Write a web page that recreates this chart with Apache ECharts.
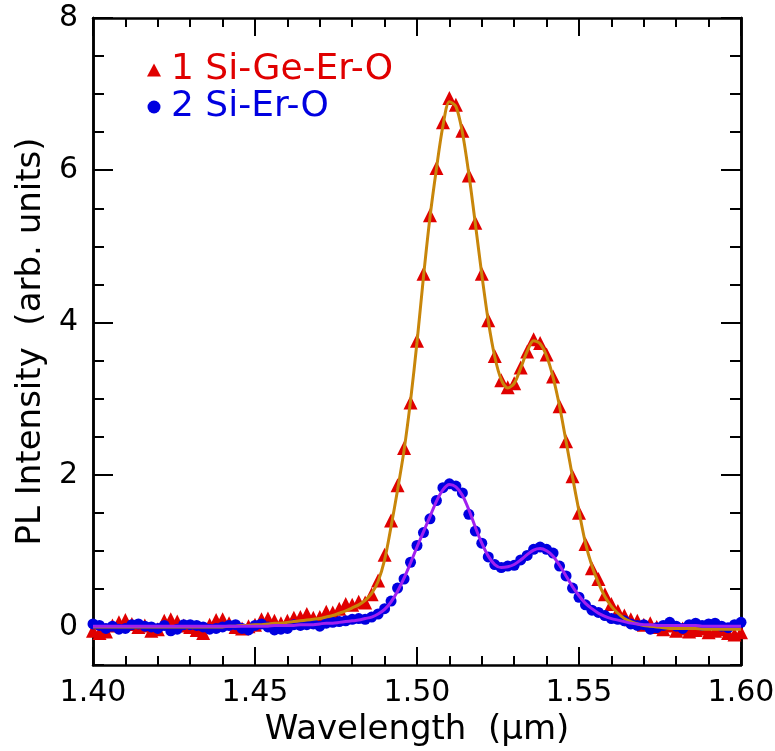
<!DOCTYPE html>
<html>
<head>
<meta charset="utf-8">
<script src="https://cdn.jsdelivr.net/npm/echarts@6/dist/echarts.min.js"></script>
<style>
  html, body { margin: 0; padding: 0; background: #fff; }
  #box { width: 775px; height: 751px; }
</style>
</head>
<body>
<div id="box"></div>
<script>
// wavelength grid (um)
var wavelength = [
  1.400, 1.402, 1.404, 1.406, 1.408, 1.410, 1.412, 1.414, 1.416, 1.418,
  1.420, 1.422, 1.424, 1.426, 1.428, 1.430, 1.432, 1.434, 1.436, 1.438,
  1.440, 1.442, 1.444, 1.446, 1.448, 1.450, 1.452, 1.454, 1.456, 1.458,
  1.460, 1.462, 1.464, 1.466, 1.468, 1.470, 1.472, 1.474, 1.476, 1.478,
  1.480, 1.482, 1.484, 1.486, 1.488, 1.490, 1.492, 1.494, 1.496, 1.498,
  1.500, 1.502, 1.504, 1.506, 1.508, 1.510, 1.512, 1.514, 1.516, 1.518,
  1.520, 1.522, 1.524, 1.526, 1.528, 1.530, 1.532, 1.534, 1.536, 1.538,
  1.540, 1.542, 1.544, 1.546, 1.548, 1.550, 1.552, 1.554, 1.556, 1.558,
  1.560, 1.562, 1.564, 1.566, 1.568, 1.570, 1.572, 1.574, 1.576, 1.578,
  1.580, 1.582, 1.584, 1.586, 1.588, 1.590, 1.592, 1.594, 1.596, 1.598,
  1.600
];

// 1 Si-Ge-Er-O measured
var siGeErO = [
  -0.05, -0.08, -0.06, 0.02, 0.06, 0.09, 0.04, 0.00, 0.02, -0.05,
  -0.03, 0.08, 0.10, 0.07, 0.02, 0.00, -0.04, -0.08, 0.03, 0.09,
  0.10, 0.05, 0.00, -0.02, 0.01, 0.03, 0.10, 0.11, 0.08, 0.05,
  0.08, 0.12, 0.13, 0.17, 0.12, 0.13, 0.20, 0.19, 0.24, 0.30,
  0.29, 0.33, 0.32, 0.43, 0.61, 0.95, 1.40, 1.86, 2.35, 2.95,
  3.76, 4.64, 5.41, 6.03, 6.63, 6.95, 6.86, 6.52, 5.93, 5.31,
  4.64, 4.03, 3.56, 3.24, 3.15, 3.20, 3.41, 3.62, 3.78, 3.73,
  3.58, 3.29, 2.90, 2.44, 1.98, 1.50, 1.09, 0.77, 0.63, 0.43,
  0.30, 0.21, 0.15, 0.10, 0.08, 0.03, 0.05, 0.00, -0.03, 0.02,
  -0.05, -0.02, -0.06, -0.04, -0.02, -0.07, -0.05, -0.03, -0.08, -0.10,
  -0.07
];

// 2 Si-Er-O measured
var siErO = [
  0.04, 0.02, -0.02, 0.01, -0.03, -0.02, 0.03, 0.04, 0.01, 0.00,
  -0.02, 0.02, -0.05, -0.03, 0.03, 0.03, 0.02, 0.00, -0.03, -0.02,
  0.00, 0.02, 0.03, -0.02, -0.04, 0.02, 0.04, 0.00, -0.04, -0.03,
  -0.02, 0.03, 0.02, 0.03, 0.04, 0.01, 0.05, 0.06, 0.07, 0.08,
  0.10, 0.11, 0.10, 0.13, 0.17, 0.24, 0.34, 0.51, 0.63, 0.85,
  1.07, 1.24, 1.42, 1.66, 1.83, 1.88, 1.85, 1.76, 1.48, 1.26,
  1.10, 0.92, 0.82, 0.78, 0.80, 0.81, 0.88, 0.94, 1.02, 1.05,
  1.02, 0.97, 0.80, 0.67, 0.51, 0.39, 0.29, 0.22, 0.19, 0.15,
  0.11, 0.10, 0.08, 0.04, 0.02, 0.03, -0.03, -0.01, 0.02, 0.06,
  0.01, -0.02, 0.03, 0.05, 0.02, 0.04, 0.05, 0.01, -0.01, 0.03,
  0.06
];

// fitted curves
var fitSiGeErO = [
  0, 0, 0, 0, 0, 0, 0, 0, 0, 0,
  0, 0, 0, 0, 0, 0, 0, 0, 0, 0,
  0.00, 0.01, 0.01, 0.02, 0.02, 0.03, 0.03, 0.04, 0.05, 0.05,
  0.06, 0.07, 0.08, 0.09, 0.10, 0.11, 0.13, 0.15, 0.18, 0.21,
  0.25, 0.29, 0.35, 0.44, 0.60, 0.88, 1.32, 1.80, 2.32, 2.97,
  3.74, 4.60, 5.38, 6.02, 6.58, 6.90, 6.84, 6.50, 5.95, 5.30,
  4.63, 4.02, 3.55, 3.25, 3.14, 3.20, 3.40, 3.62, 3.76, 3.72,
  3.56, 3.28, 2.90, 2.44, 1.97, 1.52, 1.10, 0.80, 0.58, 0.40,
  0.27, 0.18, 0.11, 0.07, 0.04, 0.02, 0.01, 0.00, -0.01, -0.02,
  -0.02, -0.02, -0.02, -0.02, -0.03, -0.03, -0.03, -0.03, -0.03, -0.03,
  -0.03
];
var fitSiErO = [
  0.01, 0.01, 0.01, 0.01, 0.01, 0.01, 0.01, 0.01, 0.01, 0.01,
  0.01, 0.01, 0.01, 0.01, 0.01, 0.01, 0.01, 0.01, 0.01, 0.01,
  0.01, 0.01, 0.01, 0.01, 0.01, 0.01, 0.01, 0.01, 0.02, 0.02,
  0.02, 0.02, 0.03, 0.03, 0.03, 0.04, 0.05, 0.05, 0.06, 0.07,
  0.08, 0.09, 0.11, 0.13, 0.17, 0.23, 0.33, 0.47, 0.64, 0.84,
  1.05, 1.25, 1.45, 1.65, 1.80, 1.87, 1.84, 1.73, 1.54, 1.31,
  1.10, 0.93, 0.82, 0.78, 0.79, 0.82, 0.88, 0.95, 1.01, 1.03,
  1.00, 0.93, 0.81, 0.67, 0.53, 0.41, 0.31, 0.24, 0.18, 0.14,
  0.11, 0.09, 0.07, 0.05, 0.04, 0.03, 0.03, 0.02, 0.02, 0.02,
  0.02, 0.02, 0.02, 0.02, 0.01, 0.01, 0.01, 0.01, 0.01, 0.01,
  0.01
];

var yMajorTicks = [0, 2, 4, 6, 8];

function pairs(ys) {
  return wavelength.map(function (x, i) { return [x, ys[i]]; });
}

var FONT = 'DejaVu Sans';
var axisLine = { show: true, onZero: false, lineStyle: { color: '#000', width: 2.5 } };

function xAx(pos, showLabel) {
  return {
    type: 'value',
    position: pos,
    min: 1.4,
    max: 1.6,
    interval: 0.05,
    axisLine: axisLine,
    axisTick: { inside: true, length: 18, lineStyle: { color: '#000', width: 2 } },
    minorTick: { show: true, splitNumber: 5, length: 9, lineStyle: { color: '#000', width: 2 } },
    splitLine: { show: false },
    axisLabel: {
      show: showLabel,
      margin: 13,
      color: '#000',
      fontFamily: FONT,
      fontSize: 30,
      formatter: function (v) { return v.toFixed(2); }
    }
  };
}

function yAx(pos, major, showLabel) {
  var ax = {
    type: 'value',
    position: pos,
    min: -0.5,
    max: 8,
    interval: 0.5,
    axisLine: axisLine,
    splitLine: { show: false },
    axisTick: { inside: true, length: 11, lineStyle: { color: '#000', width: 2 } },
    axisLabel: {
      show: showLabel,
      margin: 15,
      color: '#000',
      fontFamily: FONT,
      fontSize: 30,
      formatter: function (v) {
        return Math.abs(v % 2) < 1e-6 ? String(Math.round(v)) : '';
      }
    }
  };
  if (major) {
    ax.axisTick = { inside: true, length: 20, customValues: yMajorTicks,
                    lineStyle: { color: '#000', width: 2 } };
    ax.axisLabel = { show: false };
  }
  return ax;
}

var bottomX = xAx('bottom', true);
bottomX.name = 'Wavelength  (\u03bcm)';
bottomX.nameLocation = 'middle';
bottomX.nameGap = 36;
bottomX.nameTextStyle = { color: '#000', fontFamily: FONT, fontSize: 34 };

var leftY = yAx('left', false, true);
leftY.name = 'PL Intensity  (arb. units)';
leftY.nameLocation = 'middle';
leftY.nameGap = 45;
leftY.nameTextStyle = { color: '#000', fontFamily: FONT, fontSize: 34 };

var option = {
  backgroundColor: '#fff',
  animation: false,
  grid: { left: 93, right: 34, top: 18, bottom: 86, outerBoundsMode: 'none' },
  legend: {
    orient: 'vertical',
    left: 142,
    top: 47,
    itemGap: 1,
    itemWidth: 14,
    itemHeight: 13,
    textStyle: { fontFamily: FONT, fontSize: 36, padding: [0, 0, 0, 5] },
    data: [
      { name: '1 Si-Ge-Er-O', textStyle: { color: '#e00000' } },
      { name: '2 Si-Er-O', textStyle: { color: '#0000e0' } }
    ]
  },
  xAxis: [bottomX, xAx('top', false)],
  yAxis: [leftY, yAx('left', true, false), yAx('right', false, false), yAx('right', true, false)],
  series: [
    {
      name: '1 Si-Ge-Er-O',
      type: 'scatter',
      symbol: 'triangle',
      symbolSize: 14,
      itemStyle: { color: '#e00000', opacity: 1 },
      data: pairs(siGeErO),
      z: 2
    },
    {
      name: '2 Si-Er-O',
      type: 'scatter',
      symbol: 'circle',
      symbolSize: 11,
      itemStyle: { color: '#0000e0', opacity: 1 },
      data: pairs(siErO),
      z: 3
    },
    {
      name: 'fit 1',
      type: 'line',
      smooth: 0.3,
      showSymbol: false,
      lineStyle: { color: '#c8860a', width: 3 },
      data: pairs(fitSiGeErO),
      z: 4
    },
    {
      name: 'fit 2',
      type: 'line',
      smooth: 0.3,
      showSymbol: false,
      lineStyle: { color: '#a020f0', width: 3 },
      data: pairs(fitSiErO),
      z: 5
    }
  ]
};

var chart = echarts.init(document.getElementById('box'));
chart.setOption(option);
</script>
</body>
</html>
